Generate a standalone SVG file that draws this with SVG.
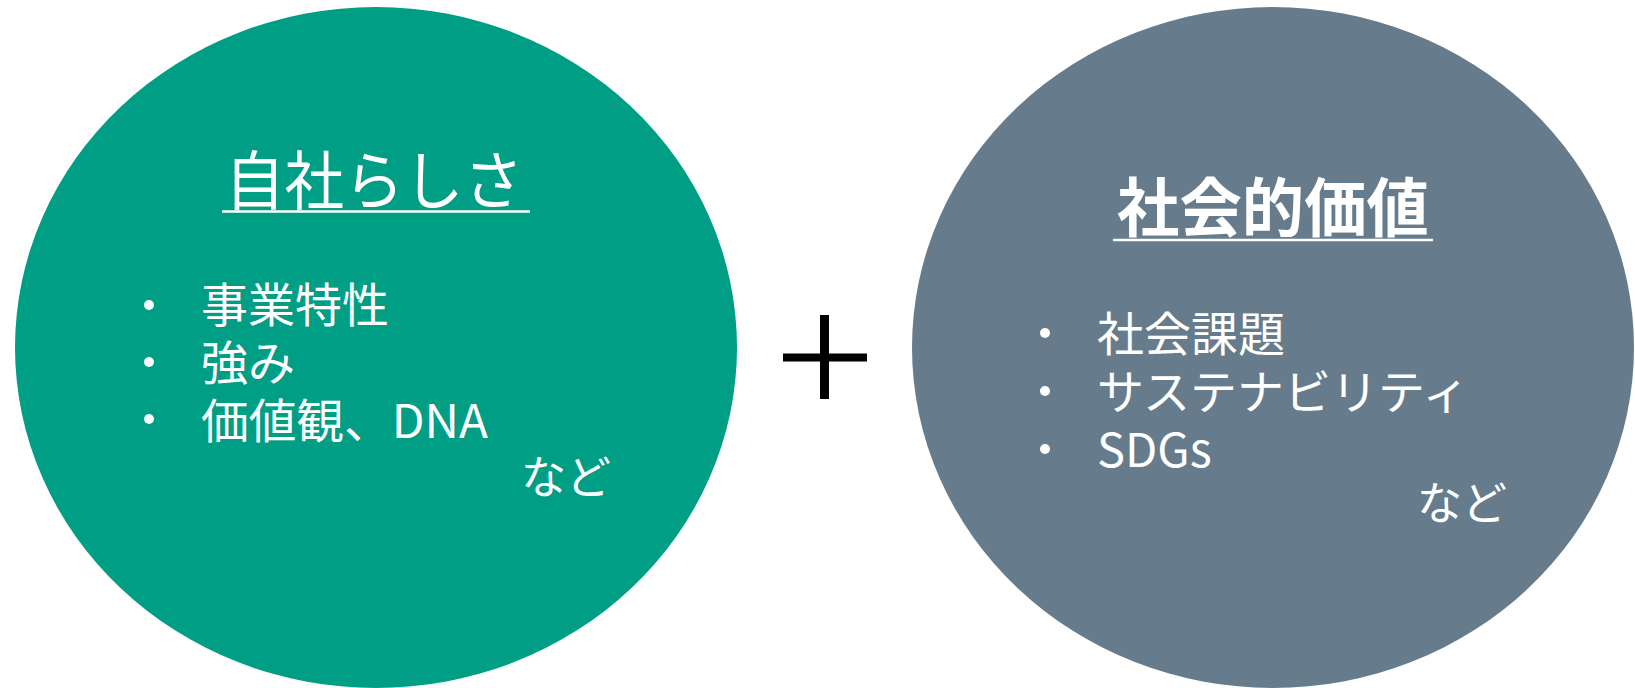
<svg xmlns="http://www.w3.org/2000/svg" width="1635" height="688" viewBox="0 0 1635 688">
<style>
.t{font-family:"Noto Sans CJK JP","Noto Sans",sans-serif;fill:#ffffff}
.h{font-size:64px}
.b{font-size:47px}
.n{font-size:45px}
.u{stroke:#ffffff;stroke-width:2.5}
.d{fill:#ffffff}
</style>
<rect width="1635" height="688" fill="#ffffff"/>
<g id="node-left">
<ellipse cx="376" cy="347.5" rx="361" ry="340.5" fill="#009E85"/>
<text class="t h" x="374" y="204" text-anchor="middle" textLength="298" lengthAdjust="spacingAndGlyphs">自社らしさ</text>
<line class="u" x1="222" y1="211.5" x2="530" y2="211.5"/>
<circle class="d" cx="149" cy="305" r="5"/>
<circle class="d" cx="149" cy="362" r="5"/>
<circle class="d" cx="149" cy="419" r="5"/>
<text class="t b" x="201" y="322">事業特性</text>
<text class="t b" x="201" y="380">強み</text>
<text class="t b" x="201" y="438" textLength="287" lengthAdjust="spacingAndGlyphs">価値観、DNA</text>
<text class="t n" x="521" y="494">など</text>
</g>
<g id="node-right">
<ellipse cx="1273" cy="347.5" rx="361" ry="340.5" fill="#667C8C"/>
<text class="t h" x="1273" y="231" text-anchor="middle" font-weight="bold" font-size="63" textLength="312" lengthAdjust="spacingAndGlyphs">社会的価値</text>
<line class="u" x1="1113" y1="240" x2="1433" y2="240"/>
<circle class="d" cx="1045" cy="333" r="5"/>
<circle class="d" cx="1045" cy="391" r="5"/>
<circle class="d" cx="1045" cy="449" r="5"/>
<text class="t b" x="1097" y="351">社会課題</text>
<text class="t b" x="1097" y="409">サステナビリティ</text>
<text class="t b" x="1097" y="467">SDGs</text>
<text class="t n" x="1417" y="520">など</text>
</g>
<g id="connectors">
<line x1="824.5" y1="315" x2="824.5" y2="399" stroke="#000000" stroke-width="9"/>
<line x1="783" y1="357.5" x2="867" y2="357.5" stroke="#000000" stroke-width="8"/>
</g>
</svg>
